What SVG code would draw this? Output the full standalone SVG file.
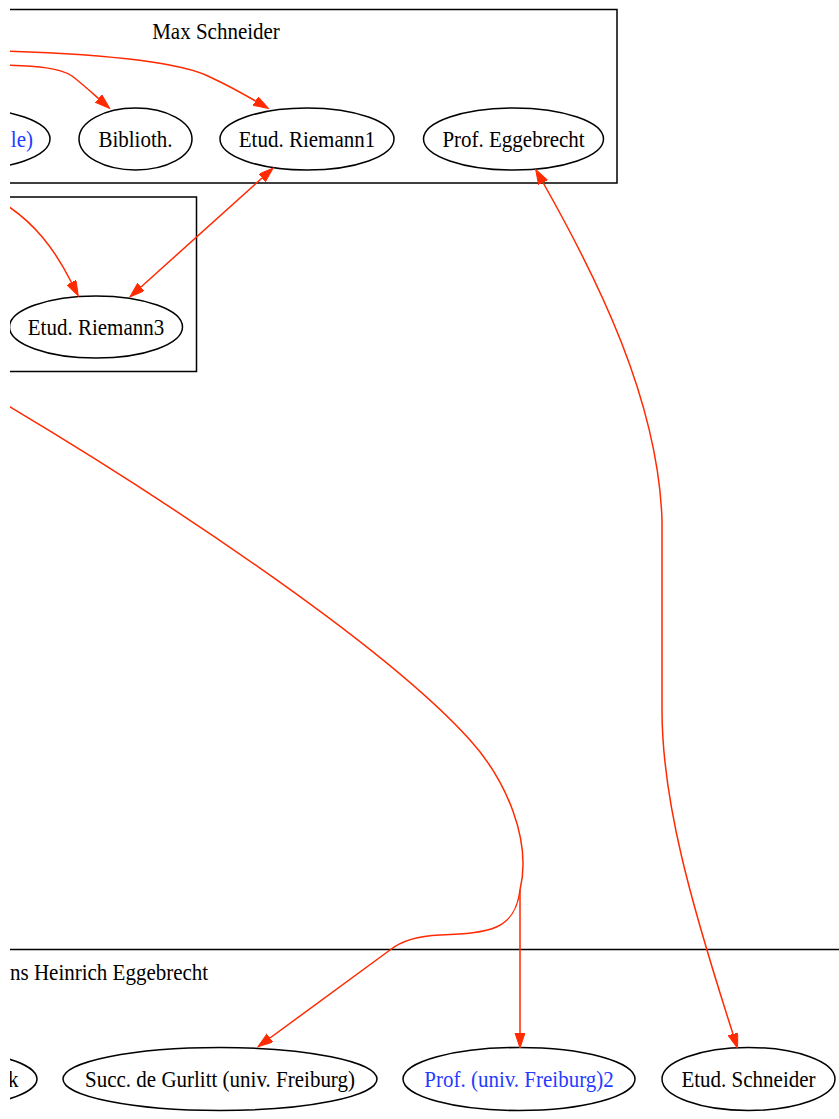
<svg xmlns="http://www.w3.org/2000/svg" width="839" height="1119" viewBox="0 0 839 1119">
<style>
.cl{fill:none;stroke:#000;stroke-width:1.5}
.nd{fill:none;stroke:#000;stroke-width:1.5}
.t{font-family:"Liberation Serif","Times New Roman",serif;font-size:23px;fill:#000}
.m{text-anchor:middle}
.en{text-anchor:end}
.b{fill:#1f3cff}
.e{fill:none;stroke:#ff2a00;stroke-width:1.5}
</style>
<defs>
<clipPath id="clip"><rect x="10" y="0" width="829" height="1119"/></clipPath>
<marker id="ah" markerUnits="userSpaceOnUse" markerWidth="16" markerHeight="11" refX="0" refY="5" orient="auto-start-reverse" viewBox="0 0 16 11">
<path d="M0,0 L15,5 L0,10 Z" fill="#ff2a00" stroke="#ff2a00" stroke-width="1"/>
</marker>
</defs>
<rect width="839" height="1119" fill="#fff"/>
<g clip-path="url(#clip)">
<g id="clusters">
<g id="cluster_max_schneider">
<rect class="cl" x="-200" y="9.5" width="817" height="173.5"/>
<text class="t m" transform="translate(216,39) scale(0.913,1)">Max Schneider</text>
</g>
<g id="cluster_riemann">
<rect class="cl" x="-200" y="197" width="396.5" height="174.5"/>
</g>
<g id="cluster_eggebrecht">
<rect class="cl" x="-200" y="949.5" width="1100" height="300"/>
<text class="t" transform="translate(10,980) scale(0.913,1)">ns Heinrich Eggebrecht</text>
</g>
</g>
<g id="nodes">
<g id="n_halle"><ellipse class="nd" cx="-38" cy="139" rx="88" ry="31"/><text class="t b en" transform="translate(33,147) scale(0.913,1)">le)</text></g>
<g id="n_biblioth"><ellipse class="nd" cx="135.5" cy="139" rx="56.5" ry="31"/><text class="t m" transform="translate(135.5,147) scale(0.913,1)">Biblioth.</text></g>
<g id="n_riemann1"><ellipse class="nd" cx="307" cy="139" rx="87" ry="31"/><text class="t m" transform="translate(307,147) scale(0.913,1)">Etud. Riemann1</text></g>
<g id="n_prof_eggebrecht"><ellipse class="nd" cx="513.5" cy="139" rx="90" ry="31"/><text class="t m" transform="translate(513.5,147) scale(0.913,1)">Prof. Eggebrecht</text></g>
<g id="n_riemann3"><ellipse class="nd" cx="96" cy="327" rx="86.5" ry="31"/><text class="t m" transform="translate(96,335) scale(0.913,1)">Etud. Riemann3</text></g>
<g id="n_k"><ellipse class="nd" cx="-83" cy="1079" rx="120" ry="31"/><text class="t en" transform="translate(18.5,1087) scale(0.913,1)">k</text></g>
<g id="n_succ_gurlitt"><ellipse class="nd" cx="220" cy="1079" rx="157" ry="31.5"/><text class="t m" transform="translate(220,1087) scale(0.913,1)">Succ. de Gurlitt (univ. Freiburg)</text></g>
<g id="n_prof_freiburg2"><ellipse class="nd" cx="519" cy="1079" rx="116" ry="31.5"/><text class="t b m" transform="translate(519,1087) scale(0.913,1)">Prof. (univ. Freiburg)2</text></g>
<g id="n_etud_schneider"><ellipse class="nd" cx="748.5" cy="1079" rx="86.5" ry="31.5"/><text class="t m" transform="translate(748.5,1087) scale(0.913,1)">Etud. Schneider</text></g>
</g>
<g id="edges">
<path class="e" marker-end="url(#ah)" d="M0,51 C100,54 180,62 210,77 C225,84 240,92 255.5,101"/>
<path class="e" marker-end="url(#ah)" d="M0,65 C40,66 60,68 72,76 C80,82 90,91 98.5,98.5"/>
<path class="e" marker-end="url(#ah)" d="M0,201 C35,222 55,250 71.5,282.5"/>
<path class="e" marker-start="url(#ah)" marker-end="url(#ah)" d="M262,178 L141,287"/>
<path class="e" marker-start="url(#ah)" marker-end="url(#ah)" d="M543,182.5 C597,278 658,400 662,520 L662,710 C662,800 690,900 733,1034"/>
<path class="e" marker-end="url(#ah)" d="M0,401 C150,490 380,640 470,740 C506,780 532,840 520,890 L520,1033"/>
<path class="e" marker-end="url(#ah)" d="M520,890 C515,930 490,933 440,935 C415,936 400,942 390,950 L270,1038"/>
</g>
</g>
</svg>
